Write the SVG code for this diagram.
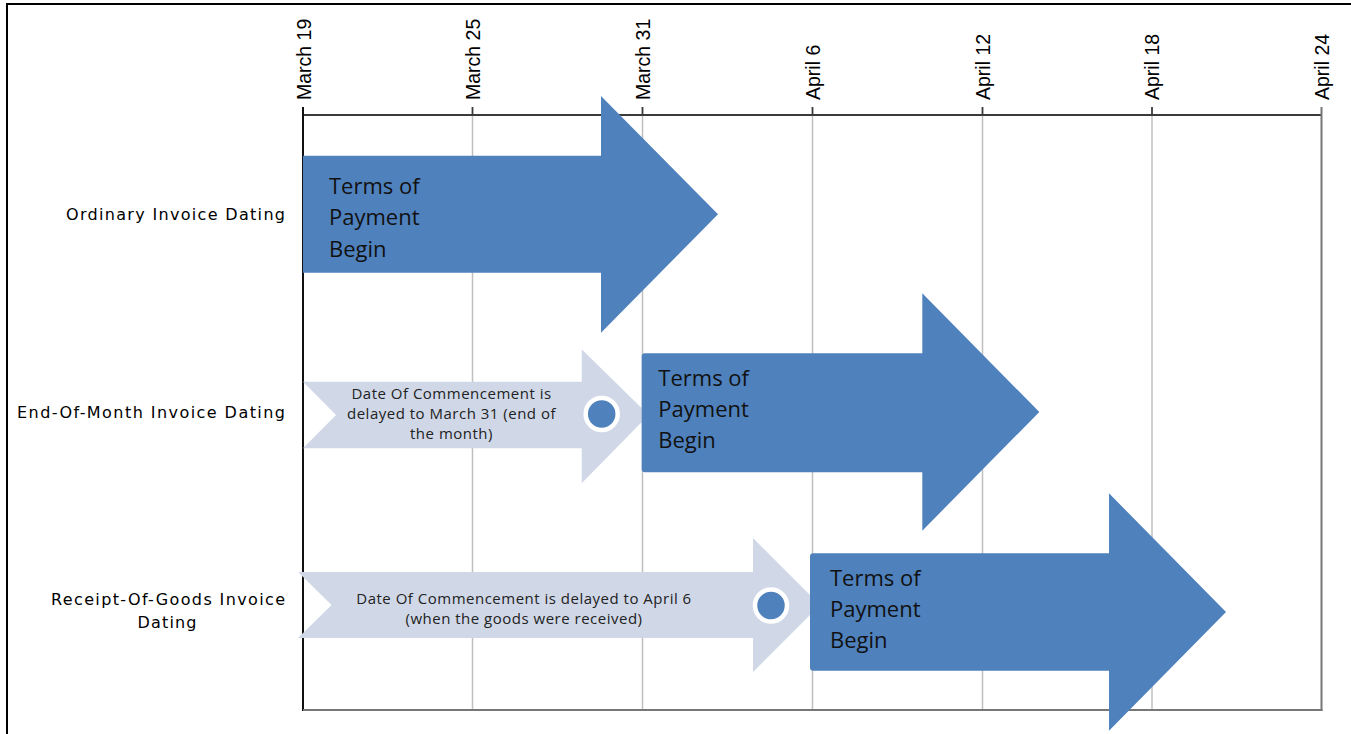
<svg xmlns="http://www.w3.org/2000/svg" width="1351" height="734" viewBox="0 0 1351 734">
<style>
.date{font-family:"Liberation Sans",Arial,sans-serif;font-size:19.5px;fill:#000;text-anchor:start}
.row{font-family:"DejaVu Sans",Verdana,sans-serif;font-size:16px;fill:#000}
.grid{stroke:#BFBFBF;stroke-width:1.5;fill:none}
.axis{stroke:#3a3a3a;stroke-width:1.8;fill:none}
.blue{fill:#4F81BD}
.pale{fill:#D0D8E8}
.big{font-family:"Open Sans","Noto Sans",sans-serif;font-size:22px;fill:#111}
.small{font-family:"Open Sans","Noto Sans",sans-serif;font-size:15px;letter-spacing:0.5px;fill:#222;text-anchor:middle}
.dot{fill:#4F81BD;stroke:#fff;stroke-width:4.5}
</style>
<rect x="0" y="0" width="1351" height="734" fill="#fff"/>
<rect x="7" y="4" width="1400" height="800" fill="none" stroke="#000" stroke-width="2"/>

<g id="timeline">
  <g id="gridlines">
    <line class="grid" x1="472.5" y1="115" x2="472.5" y2="710"/>
    <line class="grid" x1="642.5" y1="115" x2="642.5" y2="710"/>
    <line class="grid" x1="812.5" y1="115" x2="812.5" y2="710"/>
    <line class="grid" x1="982.5" y1="115" x2="982.5" y2="710"/>
    <line class="grid" x1="1152" y1="115" x2="1152" y2="710"/>
  </g>
  <line class="axis" x1="303" y1="115" x2="1321.5" y2="115"/>
  <line x1="303" y1="107" x2="303" y2="711" stroke="#111" stroke-width="2"/>
  <line x1="1321.5" y1="107" x2="1321.5" y2="711" stroke="#777" stroke-width="2"/>
  <line x1="303" y1="710" x2="1322.5" y2="710" stroke="#777" stroke-width="2"/>
  <g class="axis">
    <line x1="472.5" y1="107" x2="472.5" y2="115"/>
    <line x1="642.5" y1="107" x2="642.5" y2="115"/>
    <line x1="812.5" y1="107" x2="812.5" y2="115"/>
    <line x1="982.5" y1="107" x2="982.5" y2="115"/>
    <line x1="1152" y1="107" x2="1152" y2="115"/>
  </g>
  <text class="date" transform="translate(310.5,100) rotate(-90)">March 19</text>
  <text class="date" transform="translate(479.5,100) rotate(-90)">March 25</text>
  <text class="date" transform="translate(649.5,100) rotate(-90)">March 31</text>
  <text class="date" transform="translate(819.5,100) rotate(-90)">April 6</text>
  <text class="date" transform="translate(989.5,100) rotate(-90)">April 12</text>
  <text class="date" transform="translate(1159,100) rotate(-90)">April 18</text>
  <text class="date" transform="translate(1328.5,100) rotate(-90)">April 24</text>
</g>

<g id="row-labels">
  <text class="row" x="285" y="220" text-anchor="end" textLength="219" lengthAdjust="spacing">Ordinary Invoice Dating</text>
  <text class="row" x="285" y="418" text-anchor="end" textLength="268" lengthAdjust="spacing">End-Of-Month Invoice Dating</text>
  <text class="row" x="285" y="605" text-anchor="end" textLength="234" lengthAdjust="spacing">Receipt-Of-Goods Invoice</text>
  <text class="row" x="167" y="628" text-anchor="middle" textLength="59" lengthAdjust="spacing">Dating</text>
</g>

<g id="ordinary-terms">
  <path class="blue" d="M303,155.7 H601 V96 L718,214.3 L601,332.7 V272.7 H303 Z"/>
  <text class="big" x="329" y="194">Terms of</text>
  <text class="big" x="329" y="225">Payment</text>
  <text class="big" x="329" y="256.5">Begin</text>
</g>

<g id="eom-delay">
  <path class="pale" d="M303,381.7 H581.7 V349.3 L648.7,415 L581.7,483.3 V448.3 H303 L336,415 Z"/>
  <text class="small" x="451.5" y="399">Date Of Commencement is</text>
  <text class="small" x="451.5" y="419">delayed to March 31 (end of</text>
  <text class="small" x="451.5" y="438.5">the month)</text>
  <circle class="dot" cx="601.7" cy="414" r="16"/>
</g>

<g id="eom-terms">
  <path class="blue" d="M645,353.3 H922.3 V293.3 L1039.3,412 L922.3,530.7 V472.3 H645 Q641.7,472.3 641.7,469 V356.6 Q641.7,353.3 645,353.3 Z"/>
  <text class="big" x="658.3" y="386">Terms of</text>
  <text class="big" x="658.3" y="417">Payment</text>
  <text class="big" x="658.3" y="448">Begin</text>
</g>

<g id="rog-delay">
  <path class="pale" d="M298,572 H753 V538 L820,605 L753,672 V638 H298 L331.5,605 Z"/>
  <text class="small" x="524" y="604">Date Of Commencement is delayed to April 6</text>
  <text class="small" x="524" y="624">(when the goods were received)</text>
  <circle class="dot" cx="771" cy="605.5" r="16"/>
</g>

<g id="rog-terms">
  <path class="blue" d="M813.3,553.3 H1109 V493.3 L1226,612 L1109,730.7 V670.7 H813.3 Q810,670.7 810,667.4 V556.6 Q810,553.3 813.3,553.3 Z"/>
  <text class="big" x="830" y="586">Terms of</text>
  <text class="big" x="830" y="617">Payment</text>
  <text class="big" x="830" y="648">Begin</text>
</g>
<g id="connectors"></g>
</svg>
